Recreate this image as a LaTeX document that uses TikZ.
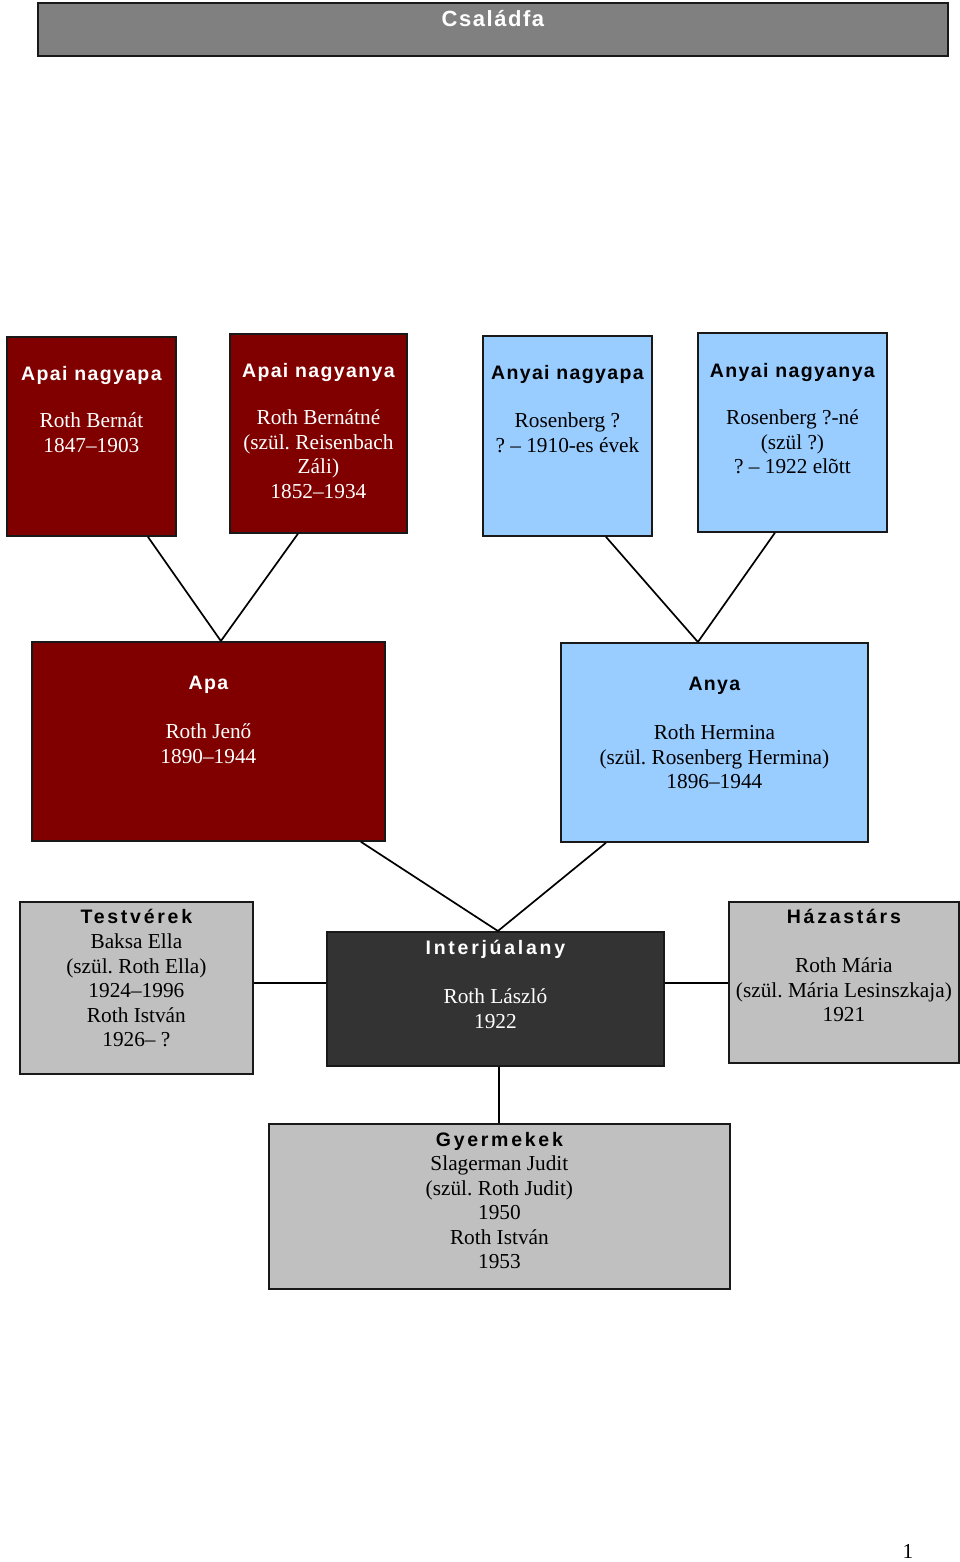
\documentclass[tikz,border=0pt]{standalone}
\usepackage{fontspec}
\setmainfont{Liberation Serif}
\newfontfamily\headfam[LetterSpace=7]{Liberation Sans}
\newfontfamily\wideheadfam[LetterSpace=14]{Liberation Sans}
\usetikzlibrary{calc}
\frenchspacing

\definecolor{apaired}{HTML}{800000}
\definecolor{anyaiblue}{HTML}{99CCFF}
\definecolor{rokongray}{HTML}{C0C0C0}
\definecolor{kozepdark}{HTML}{333333}
\definecolor{cimgray}{HTML}{808080}

\newcommand{\bodyfont}{\fontsize{21.3}{24.5}\selectfont}
\newcommand{\headfont}{\headfam\bfseries\fontsize{19.5}{24}\selectfont}
\newcommand{\wideheadfont}{\wideheadfam\bfseries\fontsize{19.5}{24}\selectfont}
% width, height, heading baseline, heading, gap to body, body
\newcommand{\famcell}[6]{%
  \parbox[t][#2pt][t]{#1pt}{\centering\lineskiplimit=-100pt
    {\headfont\rule{0pt}{#3pt}#4\par}%
    \vspace{\dimexpr#5pt-24.5pt\relax}%
    {\bodyfont #6\par}}}

\tikzset{
  famnode/.style={draw=black!90, line width=1.8pt, inner sep=0pt, anchor=north west},
  apai/.style={famnode, fill=apaired, text=white},
  anyai/.style={famnode, fill=anyaiblue, text=black},
  rokon/.style={famnode, fill=rokongray, text=black},
  kozep/.style={famnode, fill=kozepdark, text=white},
  cimsor/.style={famnode, fill=cimgray, text=white},
  vonal/.style={black, line width=1.7pt},
}

\begin{document}
\begin{tikzpicture}[x=1pt, y=-1pt]
\useasboundingbox (0,0) rectangle (960,1562);

% title
\node[cimsor] (cim) at (37,2) {\parbox[t][53pt][t]{910pt}{\centering
  \headfont\fontsize{22}{24}\selectfont\rule{0pt}{24pt}Családfa}};

% grandparents
\node[apai] (apainagyapa) at (6,336) {\famcell{169}{199}{44}{Apai nagyapa}{47}{Roth Bernát\\1847–1903}};
\node[apai] (apainagyanya) at (229,333) {\famcell{177}{199}{44}{Apai nagyanya}{47}{Roth Bernátné\\(szül. Reisenbach\\Záli)\\1852–1934}};
\node[anyai] (anyainagyapa) at (482,335) {\famcell{169}{200}{44}{Anyai nagyapa}{48}{Rosenberg ?\\? – 1910-es évek}};
\node[anyai] (anyainagyanya) at (697,332) {\famcell{189}{199}{45}{Anyai nagyanya}{47}{Rosenberg ?-né\\(szül ?)\\? – 1922 elõtt}};

% parents
\node[apai] (apa) at (31,641) {\famcell{353}{199}{48}{Apa}{49}{Roth Jenő\\1890–1944}};
\node[anyai] (anya) at (560,642) {\famcell{307}{199}{48}{Anya}{49}{Roth Hermina\\(szül. Rosenberg Hermina)\\1896–1944}};

% interviewee row
\node[rokon] (testverek) at (19,901) {\famcell{233}{172}{22}{\wideheadfont Testvérek}{25}{Baksa Ella\\(szül. Roth Ella)\\1924–1996\\Roth István\\1926– ?}};
\node[kozep] (interju) at (326,931) {\famcell{337}{134}{23}{\wideheadfont Interjúalany}{49}{Roth László\\1922}};
\node[rokon] (hazastars) at (728,901) {\famcell{230}{161}{22}{\wideheadfont Házastárs}{49}{Roth Mária\\(szül. Mária Lesinszkaja)\\1921}};

% children
\node[rokon] (gyermekek) at (268,1123) {\famcell{461}{165}{23}{\wideheadfont Gyermekek}{24}{Slagerman Judit\\(szül. Roth Judit)\\1950\\Roth István\\1953}};

% connectors
\draw[vonal] ([xshift=56.5pt]apainagyapa.south) -- ([xshift=12.5pt]apa.north);
\draw[vonal] ([xshift=-20.5pt]apainagyanya.south) -- ([xshift=12.5pt]apa.north);
\draw[vonal] ([xshift=38.5pt]anyainagyapa.south) -- ([xshift=-16.5pt]anya.north);
\draw[vonal] ([xshift=-17.5pt]anyainagyanya.south) -- ([xshift=-16.5pt]anya.north);
\draw[vonal] ([xshift=152.5pt]apa.south) -- ([xshift=2.5pt]interju.north);
\draw[vonal] ([xshift=-108.5pt]anya.south) -- ([xshift=2.5pt]interju.north);
\coordinate (testverjoin) at ([yshift=16pt]interju.west);
\coordinate (hazasjoin) at ([yshift=16pt]interju.east);
\coordinate (gyerekjoin) at ([xshift=3.5pt]interju.south);
\draw[vonal] (testverjoin) -- (testverjoin -| testverek.east);
\draw[vonal] (hazasjoin) -- (hazasjoin -| hazastars.west);
\draw[vonal] (gyerekjoin) -- (gyerekjoin |- gyermekek.north);

% page number
\node (oldalszam) at (908,1551) {\bodyfont 1};

\end{tikzpicture}
\end{document}
